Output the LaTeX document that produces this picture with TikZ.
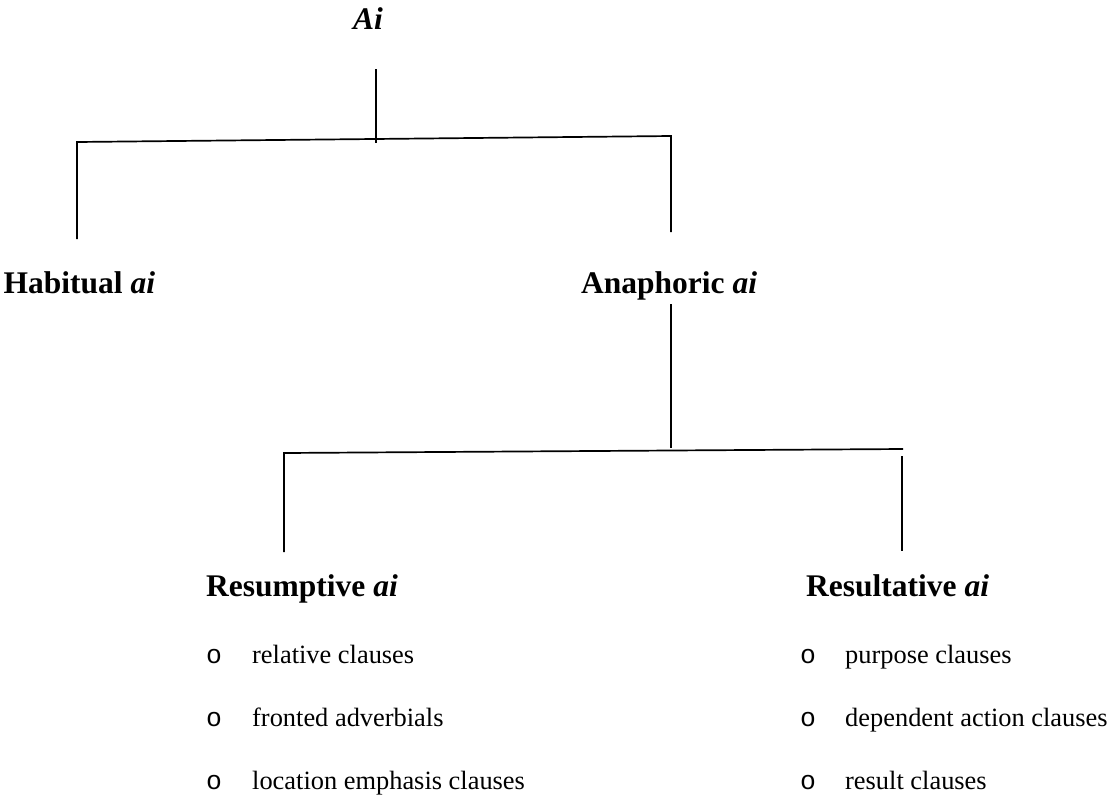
\documentclass[tikz,border=0pt]{standalone}
\usepackage{fontspec}
\setmainfont{Liberation Serif}
\newfontfamily\bulletfont{Liberation Mono}
\begin{document}
\begin{tikzpicture}[x=1pt,y=-1pt,
  conn/.style={line width=1.7pt, line cap=butt},
  headtxt/.style={anchor=base west, inner sep=0pt, font=\fontsize{31.5}{36}\selectfont\bfseries},
  itemtxt/.style={anchor=base west, inner sep=0pt, font=\fontsize{26.4}{30}\selectfont},
  bullettxt/.style={anchor=base west, inner sep=0pt, font=\fontsize{26.4}{30}\selectfont\bulletfont}]
\useasboundingbox (0,0) rectangle (1109,796);
% texts
\node[headtxt] (ai) at (353,29) {\textit{Ai}};
\node[headtxt] (hab) at (3.5,293) {Habitual \textit{ai}};
\node[headtxt] (ana) at (581,293) {Anaphoric \textit{ai}};
\node[headtxt] (res) at (206,596) {Resumptive \textit{ai}};
\node[headtxt] (rsl) at (806,596) {Resultative \textit{ai}};
% bullets left
\node[bullettxt] (bl1) at (206,663) {o};
\node[bullettxt] (bl2) at (206,726) {o};
\node[bullettxt] (bl3) at (206,789) {o};
\node[itemtxt] (l1) at (252,663) {relative clauses};
\node[itemtxt] (l2) at (252,726) {fronted adverbials};
\node[itemtxt] (l3) at (252,789) {location emphasis clauses};
% bullets right
\node[bullettxt] (br1) at (800,663) {o};
\node[bullettxt] (br2) at (800,726) {o};
\node[bullettxt] (br3) at (800,789) {o};
\node[itemtxt] (r1) at (845,663) {purpose clauses};
\node[itemtxt] (r2) at (845,726) {dependent action clauses};
\node[itemtxt] (r3) at (845,789) {result clauses};
% connector points
\coordinate (s1top) at (376,69);
\coordinate (s1bot) at (376,143);
\coordinate (b1l) at (77,142);
\coordinate (b1r) at (671,136);
\coordinate (d1l) at (77,239);
\coordinate (d1r) at (671,232);
\coordinate (s2top) at (671,304);
\coordinate (s2bot) at (671,448);
\coordinate (b2l) at (284,453);
\coordinate (b2r) at (903,449);
\coordinate (d2l) at (284,552);
\coordinate (d2rtop) at (902,456);
\coordinate (d2rbot) at (902,551);
% connectors
\draw[conn] (s1top) -- (s1bot);
\draw[conn] (d1l) -- (b1l) -- (b1r) -- (d1r);
\draw[conn] (s2top) -- (s2bot);
\draw[conn] (d2l) -- (b2l) -- (b2r);
\draw[conn] (d2rtop) -- (d2rbot);
\end{tikzpicture}
\end{document}
